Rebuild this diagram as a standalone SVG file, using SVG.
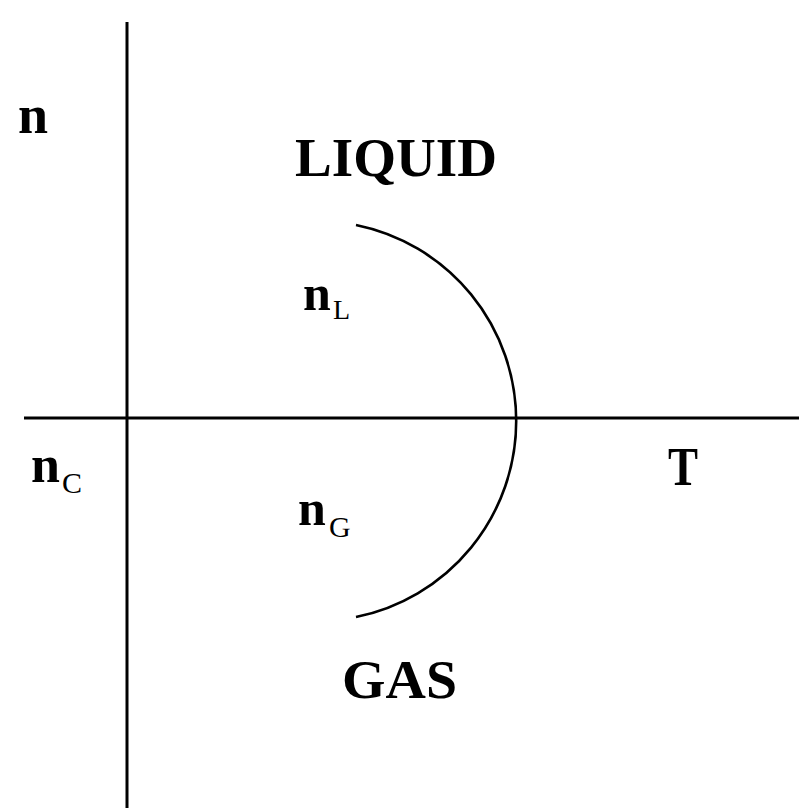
<svg xmlns="http://www.w3.org/2000/svg" width="799" height="808" viewBox="0 0 799 808">
<style>
.lbl{font-family:"Liberation Serif","Times New Roman",serif;font-weight:bold;fill:#000}
.big{font-size:54px}
.sub{font-size:28px;font-weight:normal}
.ax{stroke:#000;stroke-width:3;fill:none}
.curve{stroke:#000;stroke-width:2.6;fill:none}
</style>
<rect width="799" height="808" fill="#fff"/>
<g id="connectors">
<line class="ax" x1="127" y1="22" x2="127" y2="808"/>
<line class="ax" x1="24" y1="418" x2="799" y2="418"/>
<path class="curve" d="M356,225 A200,200 0 0 1 356,617"/>
</g>
<g id="axis-n"><text class="lbl big" x="18" y="133">n</text></g>
<g id="liquid"><text class="lbl big" x="295" y="176" textLength="202" lengthAdjust="spacingAndGlyphs">LIQUID</text></g>
<g id="nL"><text class="lbl big" x="303" y="310" style="font-size:50px">n</text><text class="lbl sub" x="333" y="319">L</text></g>
<g id="nC"><text class="lbl big" x="31" y="482" style="font-size:52px">n</text><text class="lbl sub" x="62" y="493" style="font-size:30px">C</text></g>
<g id="axis-T"><text class="lbl big" x="668" y="485" textLength="30" lengthAdjust="spacingAndGlyphs">T</text></g>
<g id="nG"><text class="lbl big" x="298" y="525" style="font-size:50px">n</text><text class="lbl sub" x="329" y="537" style="font-size:30px">G</text></g>
<g id="gas"><text class="lbl big" x="342" y="698" textLength="115" lengthAdjust="spacingAndGlyphs">GAS</text></g>
</svg>
